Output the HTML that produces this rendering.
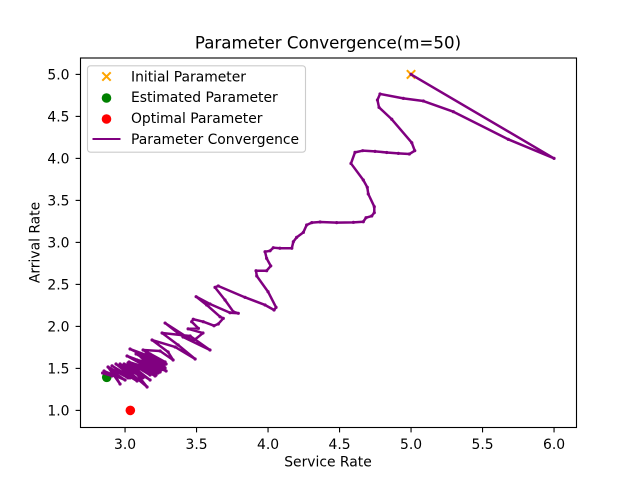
<!DOCTYPE html>
<html>
<head>
<meta charset="utf-8">
<title>Parameter Convergence</title>
<style>
html,body{margin:0;padding:0;background:#fff;width:640px;height:480px;overflow:hidden}
svg{display:block}
text{font-family:"DejaVu Sans","Liberation Sans",sans-serif;fill:#000}
</style>
</head>
<body>
<svg id="chart" width="640" height="480" viewBox="0 0 640 480" xmlns="http://www.w3.org/2000/svg">
<rect x="0" y="0" width="640" height="480" fill="#fff"/>
<text x="328" y="48.5" font-size="16.67" text-anchor="middle">Parameter Convergence(m=50)</text>
<text x="328" y="466.5" font-size="13.89" text-anchor="middle">Service Rate</text>
<text x="0" y="0" font-size="13.89" text-anchor="middle" transform="translate(39.5 242.5) rotate(-90)">Arrival Rate</text>
<g id="ticks"></g>
<g id="marks"></g>
<rect x="80.5" y="58" width="496" height="369.5" fill="none" stroke="#000" stroke-width="1.11"/>
<g>
  <rect x="87.5" y="65.8" width="218" height="86.4" rx="3" fill="#fff" fill-opacity="0.8" stroke="#ccc" stroke-width="1.11"/>
  <path d="M102.3 72.3L110.7 80.7M102.3 80.7L110.7 72.3" stroke="orange" stroke-width="2.08" fill="none"/>
  <text x="131" y="81.3" font-size="13.89">Initial Parameter</text>
  <circle cx="106.5" cy="98" r="4.8" fill="green"/>
  <text x="131" y="102" font-size="13.89">Estimated Parameter</text>
  <circle cx="106.5" cy="119" r="4.8" fill="red"/>
  <text x="131" y="123" font-size="13.89">Optimal Parameter</text>
  <line x1="92.5" y1="139" x2="120.5" y2="139" stroke="purple" stroke-width="2.08"/>
  <text x="131" y="144" font-size="13.89">Parameter Convergence</text>
</g>
</svg>
<script>
const xTickLabels = ["3.0","3.5","4.0","4.5","5.0","5.5","6.0"];
const yTickLabels = ["1.0","1.5","2.0","2.5","3.0","3.5","4.0","4.5","5.0"];
const initialParameter = [5.0, 5.0];
const estimatedParameter = [2.872, 1.394];
const optimalParameter = [3.037, 1.0];
const serviceRate = [
5.0,6.0,5.68,5.296,5.086,4.946,4.783,4.765,4.776,4.865,5.005,5.026,4.988,4.911,4.83,4.748,4.662,4.608,4.58,4.666,
4.694,4.701,4.743,4.743,4.725,4.685,4.666,4.597,4.48,4.364,4.306,4.27,4.247,4.2,4.177,4.166,4.083,4.037,4.014,3.979,
3.99,4.019,3.99,3.916,3.921,4.0,4.056,4.042,3.979,3.839,3.652,3.629,3.699,3.757,3.792,3.734,3.594,3.497,3.571,3.664,
3.687,3.652,3.622,3.547,3.477,3.466,3.513,
3.441,3.545,3.476,3.28,3.406,3.594,3.455,3.259,3.371,3.49,3.35,3.189,3.301,3.336,3.245,
3.126,3.28,3.035,3.266,3.077,3.287,3.014,3.231,3.063,3.266,3.105,3.245,3.147,3.273,3.084,3.245,3.028,3.21,3.056,3.217,
3.112,3.252,3.154,3.28,3.175,3.287,3.098,3.217,3.133,3.231,3.189,3.266,3.07,3.175,3.112,3.189,
2.993,3.175,3.021,3.154,2.965,3.126,3.007,3.091,2.937,3.084,2.909,3.035,2.944,3.021,2.881,2.965,2.916,3.0,2.853,2.909,2.843
];
const arrivalRate = [
5.0,4.0,4.227,4.556,4.683,4.715,4.767,4.695,4.608,4.466,4.187,4.092,4.052,4.06,4.07,4.084,4.092,4.072,3.94,3.743,
3.656,3.576,3.425,3.354,3.314,3.294,3.246,3.239,3.235,3.243,3.235,3.207,3.12,3.06,3.008,2.93,2.93,2.937,2.9,2.889,
2.81,2.72,2.663,2.663,2.6,2.413,2.227,2.195,2.255,2.346,2.481,2.465,2.314,2.175,2.156,2.163,2.267,2.354,2.255,2.115,
2.096,2.029,2.008,2.056,2.085,2.056,1.977,
1.971,1.921,1.826,2.04,1.874,1.719,1.886,1.921,1.779,1.612,1.755,1.838,1.695,1.6,1.707,
1.719,1.576,1.731,1.541,1.672,1.469,1.648,1.445,1.612,1.493,1.672,1.505,1.695,1.529,1.6,1.457,1.576,1.41,1.552,1.421,
1.636,1.481,1.648,1.505,1.671,1.552,1.576,1.457,1.576,1.469,1.624,1.529,1.529,1.421,1.54,1.445,
1.552,1.362,1.564,1.279,1.552,1.388,1.505,1.362,1.552,1.35,1.53,1.387,1.481,1.387,1.517,1.314,1.457,1.362,1.469,1.41,1.445
];
const svgNS = "http://www.w3.org/2000/svg";
function xScale(v){ return 80 + (v - 2.685) * 143; }
function yScale(v){ return 427.2 - (v - 0.8) * 84; }
function make(tag, attrs, parent){
  const el = document.createElementNS(svgNS, tag);
  Object.keys(attrs).forEach(k => el.setAttribute(k, attrs[k]));
  parent.appendChild(el);
  return el;
}
const ticks = document.getElementById("ticks");
const marks = document.getElementById("marks");
xTickLabels.forEach(label => {
  const px = xScale(parseFloat(label));
  const t = make("line", {x1:px, x2:px, y1:427.5, y2:432.4, stroke:"#000", "stroke-width":1.11}, ticks);
  
  
  const l = make("text", {x:px, y:449, "font-size":13.89, "text-anchor":"middle"}, ticks);
  
  
  l.textContent = label;
});
yTickLabels.forEach(label => {
  const py = yScale(parseFloat(label));
  const t = make("line", {x1:75.6, x2:80.5, y1:py, y2:py, stroke:"#000", "stroke-width":1.11}, ticks);
  
  
  const l = make("text", {x:69.5, y:py + 5.2, "font-size":13.89, "text-anchor":"end"}, ticks);
  
  
  l.textContent = label;
});
const ix = xScale(initialParameter[0]), iy = yScale(initialParameter[1]);
const initialMark = make("path", {d:`M${ix-4.2} ${iy-4.2}L${ix+4.2} ${iy+4.2}M${ix-4.2} ${iy+4.2}L${ix+4.2} ${iy-4.2}`, stroke:"orange", "stroke-width":2.08, fill:"none"}, marks);


const estimatedMark = make("circle", {cx:xScale(estimatedParameter[0]), cy:yScale(estimatedParameter[1]), r:4.8, fill:"green"}, marks);


const optimalMark = make("circle", {cx:xScale(optimalParameter[0]), cy:yScale(optimalParameter[1]), r:4.8, fill:"red"}, marks);


const points = serviceRate.map((v, i) => xScale(v).toFixed(2) + "," + yScale(arrivalRate[i]).toFixed(2)).join(" ");
const convergence = make("polyline", {points:points, fill:"none", stroke:"purple", "stroke-width":2.5, "stroke-linejoin":"round"}, marks);


serviceRate.forEach((v, i) => {
  const dot = make("circle", {cx:xScale(v), cy:yScale(arrivalRate[i]), r:1.6, fill:"purple"}, marks);
  
  
});
</script>
</body>
</html>
